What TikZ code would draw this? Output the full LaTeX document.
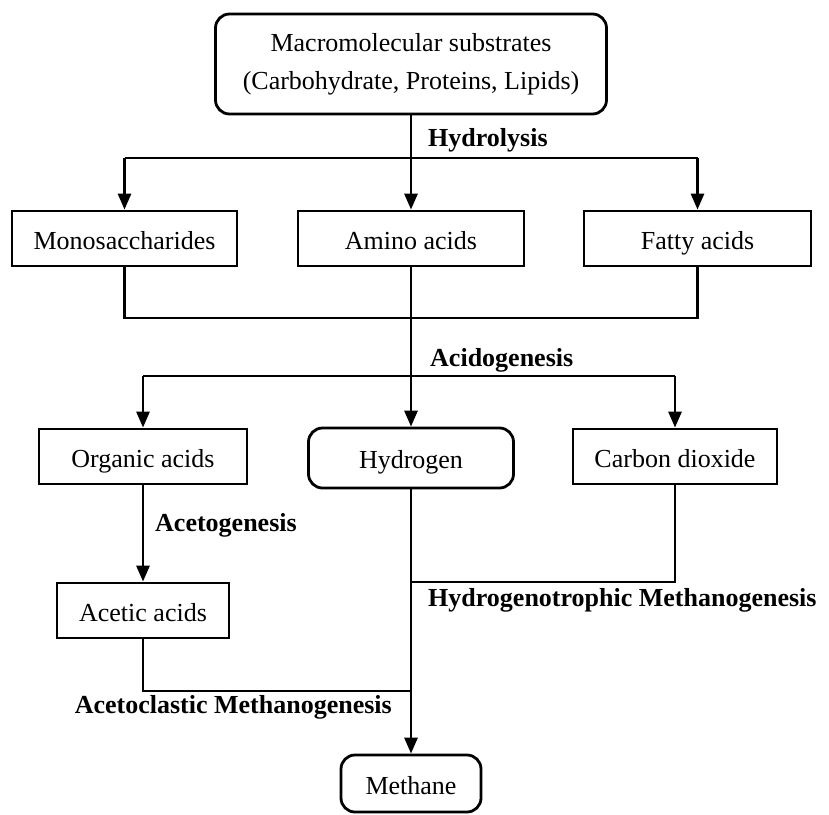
\documentclass[tikz,border=0pt]{standalone}
\usepackage{fontspec}
\setmainfont{Liberation Serif}
\usetikzlibrary{calc}
\usetikzlibrary{arrows.meta}

\tikzset{
	plainbox/.style={draw,line width=2.8pt,inner sep=0pt,font=\fontsize{26}{38}\selectfont},
	stage/.style={plainbox,minimum height=55pt,text height=21pt,text depth=0pt},
	roundstage/.style={stage,rounded corners=14pt},
	proc/.style={inner sep=0pt,font=\fontsize{26}{30}\selectfont\bfseries},
	flow/.style={line width=2.8pt},
	flowarr/.style={flow,-{Triangle[width=13pt,length=16pt]}}
}

\begin{document}
\begin{tikzpicture}[x=1pt,y=-1pt]
		\useasboundingbox (0,0) rectangle (829,814);

		\node[plainbox,rounded corners=14pt,minimum width=391pt,minimum height=100pt,align=center] (Sub) at (411,64) {Macromolecular substrates\\(Carbohydrate, Proteins, Lipids)};

		\node[stage,minimum width=225pt] (Mono) at (124.5,238.5) {Monosaccharides};
		\node[stage,minimum width=226pt] (Amino) at (411,238.5) {Amino acids};
		\node[stage,minimum width=227pt] (Fatty) at (697.5,238.5) {Fatty acids};

		\node[stage,minimum width=208pt] (Org) at (143,456.5) {Organic acids};
		\node[roundstage,minimum width=205pt,minimum height=60pt] (Hyd) at (411,458) {Hydrogen};
		\node[stage,minimum width=204pt] (CO) at (675,456.5) {Carbon dioxide};

		\node[stage,minimum width=172pt] (Acet) at (143,610.5) {Acetic acids};
		\node[roundstage,minimum width=140pt,minimum height=57pt] (Meth) at (411,783.5) {Methane};

		% hydrolysis
		\coordinate (HL) at (124.5,158);
		\coordinate (HR) at (697.5,158);
		\draw[flow] (HL)--(HR);
		\draw[flowarr] (Sub)--(Amino);
		\draw[flowarr] (HL)--(Mono);
		\draw[flowarr] (HR)--(Fatty);
		\node[proc,anchor=west] (Hydrolysis) at (428,140) {Hydrolysis};

		% acidogenesis
		\coordinate (AL) at (124.5,318);
		\coordinate (AR) at (697.5,318);
		\draw[flow] (Mono)--(AL)--(AR)--(Fatty);
		\draw[flowarr] (Amino)--(Hyd);
		\coordinate (BL) at (143,376);
		\coordinate (BR) at (675,376);
		\draw[flow] (BL)--(BR);
		\draw[flowarr] (BL)--(Org);
		\draw[flowarr] (BR)--(CO);
		\node[proc,anchor=west] (Acido) at (430,360) {Acidogenesis};

		% acetogenesis
		\draw[flowarr] (Org)--(Acet);
		\node[proc,anchor=west] (Aceto) at (155,525) {Acetogenesis};

		% methanogenesis
		\coordinate (CB) at (675,582);
		\coordinate (CM) at (411,582);
		\draw[flow] (CO)--(CB)--(CM);
		\coordinate (EB) at (143,691);
		\coordinate (EM) at (411,691);
		\draw[flow] (Acet)--(EB)--(EM);
		\draw[flowarr] (Hyd)--(Meth);
		\node[proc,anchor=west] (HydMeth) at (428,600) {Hydrogenotrophic Methanogenesis};
		\node[proc,anchor=east] (AceMeth) at (392,707) {Acetoclastic Methanogenesis};
\end{tikzpicture}
\end{document}
